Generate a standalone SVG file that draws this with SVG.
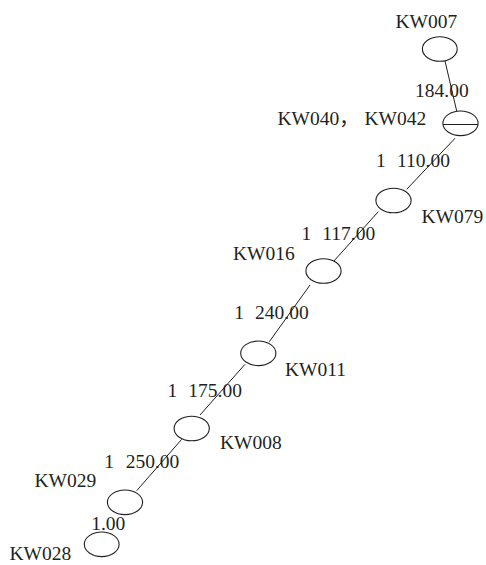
<svg xmlns="http://www.w3.org/2000/svg" width="486" height="565" viewBox="0 0 486 565">
  <style>
    .node ellipse { fill: #fff; stroke: #231f20; stroke-width: 1.1; }
    .node line { stroke: #231f20; stroke-width: 1.1; }
    .edges line { stroke: #231f20; stroke-width: 1; }
    text { font-family: "Liberation Serif", "Noto Sans CJK SC", serif; font-size: 19.5px; fill: #231f20; }
  </style>
  <rect width="486" height="565" fill="#fff"/>

  <!-- connections between wells, with distances -->
  <g id="edges" class="edges">
    <line x1="445" y1="61" x2="456.7" y2="111"/>
    <line x1="455" y1="138.3" x2="406.7" y2="189.3"/>
    <line x1="378.3" y1="211.7" x2="333.3" y2="261.7"/>
    <line x1="310" y1="285" x2="269.3" y2="341.7"/>
    <line x1="245" y1="364.3" x2="200" y2="415"/>
    <line x1="181.7" y1="439.3" x2="136.7" y2="490.7"/>
    <text x="415" y="96.5">184.00</text>
    <text x="376" y="167.3">1<tspan x="397">110.00</tspan></text>
    <text x="301.5" y="240">1<tspan x="322.3">117.00</tspan></text>
    <text x="234.3" y="319.3">1<tspan x="255">240.00</tspan></text>
    <text x="167.6" y="396.7">1<tspan x="188.3">175.00</tspan></text>
    <text x="104.3" y="468.3">1<tspan x="125.7">250.00</tspan></text>
    <text x="91.2" y="530">1.00</text>
  </g>

  <g id="KW007" class="node">
    <ellipse cx="439.8" cy="49" rx="17.4" ry="12.3"/>
    <text x="395.5" y="28.3">KW007</text>
  </g>
  <g id="KW040-KW042" class="node">
    <ellipse cx="460.5" cy="123.3" rx="17.6" ry="12.3"/>
    <line x1="443" y1="124.5" x2="478" y2="124.5"/>
    <text x="277.5" y="124.5">KW040，<tspan x="364.5">KW042</tspan></text>
  </g>
  <g id="KW079" class="node">
    <ellipse cx="393.5" cy="200.5" rx="17.6" ry="12.3"/>
    <text x="421.5" y="223.3">KW079</text>
  </g>
  <g id="KW016" class="node">
    <ellipse cx="323.5" cy="271" rx="17.6" ry="12.3"/>
    <text x="233" y="260">KW016</text>
  </g>
  <g id="KW011" class="node">
    <ellipse cx="258.3" cy="353.3" rx="17.6" ry="12.3"/>
    <text x="285" y="376">KW011</text>
  </g>
  <g id="KW008" class="node">
    <ellipse cx="191.7" cy="428.5" rx="17.6" ry="12.3"/>
    <text x="220" y="449">KW008</text>
  </g>
  <g id="KW029" class="node">
    <ellipse cx="125" cy="502.3" rx="17.6" ry="12.3"/>
    <text x="34.5" y="486.7">KW029</text>
  </g>
  <g id="KW028" class="node">
    <ellipse cx="101.7" cy="544.3" rx="17.4" ry="12.3"/>
    <text x="9.5" y="560">KW028</text>
  </g>
</svg>
